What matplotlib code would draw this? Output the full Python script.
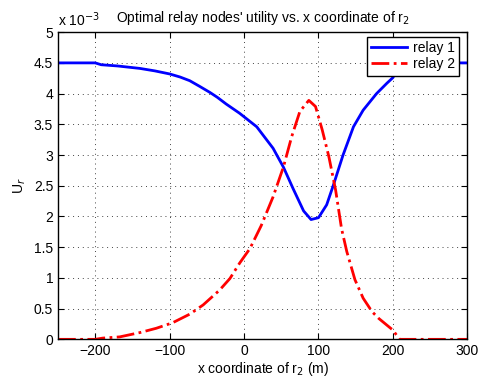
import numpy as np
import matplotlib
matplotlib.use('Agg')
import matplotlib.pyplot as plt
from matplotlib.ticker import FuncFormatter

plt.rcParams['font.family'] = ['Liberation Sans', 'DejaVu Sans']

# relay 1 utility (units of 1e-3) vs x coordinate of r2
x_r1 = [-250, -200, -192, -170, -140, -120, -100, -86, -73, -60, -46, -36,
        -24, -6, 17, 39, 53, 66, 80, 90, 100, 111, 120, 133, 147, 160, 170,
        178, 192, 200, 203, 205, 300]
u_r1 = [4.5, 4.5, 4.47, 4.45, 4.41, 4.37, 4.32, 4.27, 4.21, 4.12, 4.02, 3.94,
        3.83, 3.68, 3.46, 3.11, 2.80, 2.45, 2.09, 1.95, 1.98, 2.19, 2.51, 3.0,
        3.46, 3.73, 3.88, 4.0, 4.17, 4.26, 4.33, 4.5, 4.5]

# relay 2 utility (units of 1e-3)
x_r2 = [-250, -200, -190, -167, -140, -118, -96, -73, -55, -33, -19, -6, 8,
        23, 39, 53, 64, 75, 87, 96, 105, 114, 123, 131, 138, 149, 160, 172,
        181, 200, 209, 300]
u_r2 = [0.0, 0.0, 0.02, 0.04, 0.11, 0.18, 0.27, 0.41, 0.56, 0.80, 0.99, 1.24,
        1.48, 1.85, 2.32, 2.81, 3.30, 3.71, 3.89, 3.79, 3.41, 2.97, 2.43,
        1.80, 1.43, 0.97, 0.67, 0.45, 0.34, 0.15, 0.0, 0.0]

fig = plt.figure(figsize=(4.81, 3.83), dpi=100)
ax = fig.add_axes([0.1206, 0.114, 0.851, 0.802])

ax.plot(x_r1, u_r1, '-', color='#0000ff', lw=2, label='relay 1')
ax.plot(x_r2, u_r2, '-.', color='#ff0000', lw=2, label='relay 2')

ax.set_xlim(-250, 300)
ax.set_ylim(0, 5)
ax.set_xticks(np.arange(-200, 301, 100))
ax.set_yticks(np.arange(0, 5.01, 0.5))
fmt = FuncFormatter(lambda v, p: ('%g' % v).replace('-', '\u2212'))
ax.xaxis.set_major_formatter(fmt)
ax.yaxis.set_major_formatter(fmt)
ax.tick_params(direction='in', top=True, right=True, labelsize=10, length=4)
ax.grid(True, linestyle=(0, (1, 4)), color='#444444', linewidth=0.7)
for s in ax.spines.values():
    s.set_linewidth(1)

ax.set_title("Optimal relay nodes' utility vs. x coordinate of r$_2$", fontsize=10, pad=7)
ax.set_xlabel('x coordinate of r$_2$ (m)', fontsize=10, labelpad=1)
ax.set_ylabel('U$_r$', fontsize=10)
ax.text(0.0, 1.01, 'x 10$^{-3}$', transform=ax.transAxes, fontsize=10,
        ha='left', va='bottom')

leg = ax.legend(loc='upper right', bbox_to_anchor=(0.98, 0.984), borderaxespad=0,
                fontsize=10, fancybox=False, framealpha=1, edgecolor='black',
                handlelength=2.6, borderpad=0.3, labelspacing=0.15,
                handletextpad=0.4)
leg.get_frame().set_linewidth(1)

fig.savefig('out.png', dpi=100)
